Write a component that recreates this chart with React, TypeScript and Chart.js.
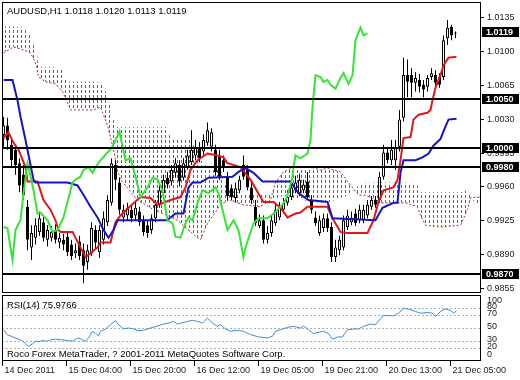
import React, { useEffect, useRef } from "react";
import { Chart, registerables } from "chart.js";

Chart.register(...registerables);

// ---------- texts ----------
const symbolTitle = "AUDUSD,H1 1.0118 1.0120 1.0113 1.0119";
const rsiTitle = "RSI(14) 75.9766";
const copyright = "Roco Forex MetaTrader, ? 2001-2011 MetaQuotes Software Corp.";

// ---------- candles (bar index 0..113) ----------
const opens = [
  1.0013, 1.0023, 1.0003, 0.9998, 0.9984, 0.9972, 0.9939, 0.9897, 0.9907, 0.9913,
  0.9923, 0.9905, 0.9907, 0.9915, 0.9902, 0.9905, 0.9908, 0.9900, 0.9891, 0.9903,
  0.9894, 0.9882, 0.9891, 0.9915, 0.9892, 0.9905, 0.9923, 0.9943, 0.9982, 0.9964,
  0.9928, 0.9930, 0.9936, 0.9930, 0.9934, 0.9925, 0.9920, 0.9915, 0.9927, 0.9941,
  0.9953, 0.9969, 0.9965, 0.9974, 0.9982, 0.9969, 0.9979, 0.9985, 0.9992, 1.0000,
  0.9996, 1.0005, 1.0001, 0.9998, 0.9992, 0.9987, 0.9969, 0.9958, 0.9948, 0.9956,
  0.9982, 0.9977, 0.9959, 0.9939, 0.9919, 0.9925, 0.9905, 0.9912, 0.9922, 0.9928,
  0.9936, 0.9943, 0.9949, 0.9956, 0.9953, 0.9956, 0.9965, 0.9946, 0.9928, 0.9912,
  0.9917, 0.9927, 0.9918, 0.9887, 0.9894, 0.9897, 0.9918, 0.9923, 0.9932, 0.9925,
  0.9925, 0.9930, 0.9939, 0.9946, 0.9946, 0.9970, 0.9995, 0.9987, 0.9987, 1.0001,
  1.0031, 1.0075, 1.0075, 1.0067, 1.0070, 1.0065, 1.0063, 1.0073, 1.0075, 1.0073,
  1.0073, 1.0113, 1.0125, 1.0118,
];
const highs = [
  1.0032, 1.0031, 1.0008, 1.0003, 0.9989, 0.9982, 0.9946, 0.9920, 0.9927, 0.9934,
  0.9930, 0.9920, 0.9919, 0.9921, 0.9912, 0.9911, 0.9913, 0.9905, 0.9901, 0.9909,
  0.9901, 0.9900, 0.9923, 0.9920, 0.9920, 0.9934, 0.9951, 0.9989, 0.9987, 0.9969,
  0.9941, 0.9943, 0.9941, 0.9944, 0.9939, 0.9930, 0.9925, 0.9931, 0.9946, 0.9961,
  0.9972, 0.9975, 0.9982, 0.9989, 0.9987, 0.9989, 0.9998, 1.0018, 1.0008, 1.0006,
  1.0014, 1.0026, 1.0020, 1.0003, 0.9998, 0.9992, 0.9975, 0.9962, 0.9964, 0.9971,
  0.9992, 0.9982, 0.9965, 0.9946, 0.9931, 0.9930, 0.9919, 0.9930, 0.9941, 0.9944,
  0.9948, 0.9956, 0.9967, 0.9971, 0.9973, 0.9967, 0.9975, 0.9951, 0.9934, 0.9930,
  0.9932, 0.9932, 0.9923, 0.9905, 0.9909, 0.9930, 0.9936, 0.9934, 0.9937, 0.9941,
  0.9941, 0.9946, 0.9950, 0.9950, 0.9975, 1.0003, 1.0000, 1.0008, 1.0008, 1.0039,
  1.0093, 1.0091, 1.0082, 1.0078, 1.0076, 1.0070, 1.0075, 1.0082, 1.0080, 1.0077,
  1.0116, 1.0132, 1.0127, 1.0120,
];
const lows = [
  1.0001, 0.9998, 0.9979, 0.9972, 0.9954, 0.9946, 0.9894, 0.9884, 0.9900, 0.9909,
  0.9903, 0.9898, 0.9903, 0.9901, 0.9896, 0.9894, 0.9888, 0.9884, 0.9886, 0.9884,
  0.9860, 0.9874, 0.9888, 0.9896, 0.9886, 0.9900, 0.9919, 0.9940, 0.9956, 0.9931,
  0.9923, 0.9925, 0.9923, 0.9925, 0.9919, 0.9909, 0.9907, 0.9911, 0.9923, 0.9938,
  0.9950, 0.9958, 0.9961, 0.9969, 0.9960, 0.9966, 0.9977, 0.9982, 0.9987, 0.9985,
  0.9992, 1.0002, 0.9996, 0.9971, 0.9967, 0.9975, 0.9946, 0.9946, 0.9944, 0.9953,
  0.9967, 0.9956, 0.9942, 0.9919, 0.9917, 0.9901, 0.9901, 0.9908, 0.9919, 0.9925,
  0.9932, 0.9940, 0.9946, 0.9953, 0.9950, 0.9953, 0.9946, 0.9932, 0.9919, 0.9909,
  0.9913, 0.9913, 0.9882, 0.9882, 0.9889, 0.9894, 0.9915, 0.9920, 0.9919, 0.9922,
  0.9922, 0.9927, 0.9936, 0.9938, 0.9943, 0.9967, 0.9984, 0.9982, 0.9977, 0.9996,
  1.0027, 1.0052, 1.0052, 1.0058, 1.0057, 1.0052, 1.0058, 1.0070, 1.0062, 1.0062,
  1.0070, 1.0106, 1.0111, 1.0113,
];
const closes = [
  1.0023, 1.0008, 0.9987, 0.9982, 0.9961, 0.9951, 0.9905, 0.9912, 0.9920, 0.9927,
  0.9907, 0.9915, 0.9913, 0.9905, 0.9907, 0.9900, 0.9892, 0.9888, 0.9894, 0.9888,
  0.9878, 0.9894, 0.9917, 0.9902, 0.9915, 0.9927, 0.9946, 0.9984, 0.9967, 0.9936,
  0.9936, 0.9938, 0.9927, 0.9938, 0.9923, 0.9913, 0.9912, 0.9927, 0.9941, 0.9956,
  0.9967, 0.9962, 0.9977, 0.9984, 0.9965, 0.9984, 0.9992, 0.9998, 1.0000, 0.9989,
  1.0008, 1.0018, 1.0016, 0.9975, 0.9970, 0.9979, 0.9950, 0.9949, 0.9958, 0.9967,
  0.9970, 0.9959, 0.9946, 0.9922, 0.9925, 0.9905, 0.9912, 0.9925, 0.9936, 0.9939,
  0.9943, 0.9949, 0.9959, 0.9964, 0.9967, 0.9962, 0.9949, 0.9936, 0.9922, 0.9925,
  0.9927, 0.9917, 0.9887, 0.9897, 0.9905, 0.9925, 0.9930, 0.9928, 0.9922, 0.9936,
  0.9936, 0.9941, 0.9946, 0.9941, 0.9970, 0.9995, 0.9987, 0.9998, 1.0000, 1.0029,
  1.0075, 1.0068, 1.0067, 1.0072, 1.0063, 1.0060, 1.0072, 1.0077, 1.0067, 1.0065,
  1.0111, 1.0124, 1.0116, 1.0119,
];

// ---------- Ichimoku lines [bar index, price] ----------
const tenkan: [number, number][] = [
  [0, 1.0010], [1.25, 1.0016], [2.5, 1.0005], [3.75, 0.9998], [5.5, 0.9980], [6, 0.9965],
  [8.5, 0.9965], [10, 0.9946], [11.75, 0.9936], [13, 0.9925], [13.75, 0.9915], [14.25, 0.9913],
  [17.25, 0.9913], [19.25, 0.9897], [20.5, 0.9887], [21.75, 0.9891], [23.5, 0.9897], [24.25, 0.9902],
  [26.75, 0.9902], [28, 0.9923], [29.25, 0.9930], [31.25, 0.9938], [34.25, 0.9949], [36.75, 0.9948],
  [38.5, 0.9941], [40, 0.9943], [41.75, 0.9946], [44.25, 0.9949], [45.5, 0.9959], [46.75, 0.9977],
  [48.5, 0.9987], [51, 0.9994], [53.5, 0.9992], [55, 0.9990], [56, 0.9984], [59.25, 0.9980],
  [61.75, 0.9967], [64.25, 0.9949], [65, 0.9944], [67.5, 0.9944], [69.25, 0.9938], [71, 0.9928],
  [73, 0.9932], [74.25, 0.9933], [76, 0.9939], [81, 0.9939], [82.25, 0.9927], [84.25, 0.9913],
  [86, 0.9912], [91, 0.9912], [92.5, 0.9925], [93.75, 0.9944], [95, 0.9956], [97.5, 0.9959],
  [98.5, 0.9967], [99.25, 0.9987], [100, 1.0010], [101.75, 1.0011], [102.5, 1.0029], [103.75, 1.0034],
  [106, 1.0036], [106.75, 1.0039], [107.25, 1.0049], [108, 1.0062], [109.25, 1.0075], [110, 1.0085],
  [111.25, 1.0093], [113.25, 1.0094],
];
const kijun: [number, number][] = [
  [0, 1.0070], [2.25, 1.0070], [3.5, 1.0049], [4.25, 1.0032], [5.5, 1.0008], [7.5, 0.9967],
  [8, 0.9964], [16, 0.9964], [18.5, 0.9961], [19.75, 0.9953], [21.75, 0.9939], [23.5, 0.9928],
  [25, 0.9915], [26.25, 0.9907], [27.5, 0.9915], [28.5, 0.9925], [41, 0.9925], [41.75, 0.9928],
  [43, 0.9932], [45, 0.9932], [46.25, 0.9959], [47.25, 0.9964], [49.25, 0.9964], [51.25, 0.9969],
  [57.25, 0.9970], [58.75, 0.9975], [60.5, 0.9979], [62.5, 0.9974], [64.75, 0.9965], [71.75, 0.9965],
  [73.75, 0.9953], [76.25, 0.9946], [81, 0.9944], [82.25, 0.9927], [93, 0.9925], [94.75, 0.9938],
  [97.5, 0.9943], [98.5, 0.9943], [99.25, 0.9974], [100, 0.9987], [103, 0.9987], [104.75, 0.9990],
  [106.25, 0.9994], [107.5, 1.0002], [109.25, 1.0009], [110.5, 1.0022], [111.25, 1.0029], [113.25, 1.0030],
];
const chikou: [number, number][] = [
  [0, 0.9918], [1, 0.9917], [1.75, 0.9897], [2.25, 0.9884], [3, 0.9915], [4.25, 0.9925],
  [5, 0.9953], [6, 0.9984], [6.25, 0.9980], [7.5, 0.9956], [8.5, 0.9932], [9.25, 0.9933],
  [11, 0.9925], [12.25, 0.9913], [13.5, 0.9915], [15, 0.9928], [17.25, 0.9964], [18, 0.9967],
  [19.25, 0.9970], [20, 0.9977], [21.25, 0.9980], [22.25, 0.9974], [23, 0.9980], [24.25, 0.9987],
  [26, 0.9995], [27.25, 1.0001], [28, 1.0008], [29, 1.0017], [29.25, 1.0011], [30.5, 0.9987],
  [31.75, 0.9989], [33, 0.9970], [34.25, 0.9949], [36, 0.9959], [37.25, 0.9969], [38.5, 0.9967],
  [39.75, 0.9956], [41, 0.9925], [42.25, 0.9922], [43, 0.9908], [44.25, 0.9907], [45.5, 0.9922],
  [46.25, 0.9928], [47.25, 0.9925], [48.5, 0.9943], [49.75, 0.9956], [51.25, 0.9953], [53, 0.9959],
  [53.75, 0.9953], [54.75, 0.9936], [56, 0.9915], [57.5, 0.9925], [58.75, 0.9915], [60, 0.9887],
  [60.5, 0.9897], [62.5, 0.9922], [63.75, 0.9927], [66, 0.9927], [67.5, 0.9932], [69.25, 0.9939],
  [70.5, 0.9946], [71.25, 0.9954], [72.25, 0.9970], [72.5, 0.9980], [73, 0.9992], [74.25, 0.9989],
  [76, 0.9994], [76.75, 1.0008], [77.25, 1.0042], [78, 1.0075], [79.25, 1.0073], [80, 1.0068],
  [81, 1.0070], [81.75, 1.0065], [83, 1.0061], [84.25, 1.0072], [85, 1.0077], [86.25, 1.0066],
  [87.25, 1.0075], [88, 1.0111], [89.25, 1.0124], [90, 1.0116], [91, 1.0118],
];

// ---------- Kumo (cloud) ----------
const cloudIdx = [
  0, 2.5, 5, 6.75, 8.25, 8.75, 10.5, 13, 14.75, 15.75,
  16.75, 22.5, 24.25, 26, 27.5, 28.5, 29.25, 33.5, 37.5, 41,
  41.75, 43.5, 46.75, 48.5, 49.25, 51, 54.25, 56.25, 60, 64.25,
  66.75, 68, 70, 72.5, 76.75, 79.25, 81, 84.25, 86.25, 88.75,
  90.5, 94.25, 100.5, 103.5, 104.25, 105.5, 109.25, 114.25, 116, 116.75,
  118, 119.5,
];
const spanA = [
  1.0125, 1.0125, 1.0124, 1.0116, 1.0101, 1.0083, 1.0083, 1.0083, 1.0080, 1.0068,
  1.0068, 1.0068, 1.0067, 1.0055, 1.0029, 1.0021, 1.0021, 1.0021, 1.0021, 1.0021,
  1.0010, 1.0010, 1.0008, 0.9998, 0.9987, 0.9982, 0.9977, 0.9956, 0.9953, 0.9953,
  0.9951, 0.9946, 0.9951, 0.9948, 0.9944, 0.9943, 0.9943, 0.9948, 0.9951, 0.9961,
  0.9964, 0.9964, 0.9964, 0.9961, 0.9954, 0.9954, 0.9954, 0.9954, 0.9956, 0.9951,
  0.9941, 0.9941,
];
const spanB = [
  1.0098, 1.0104, 1.0101, 1.0098, 1.0085, 1.0073, 1.0068, 1.0066, 1.0058, 1.0049,
  1.0039, 1.0039, 1.0042, 1.0023, 0.9998, 0.9977, 0.9967, 0.9946, 0.9936, 0.9930,
  0.9928, 0.9925, 0.9913, 0.9907, 0.9905, 0.9922, 0.9941, 0.9946, 0.9941, 0.9939,
  0.9946, 0.9964, 0.9975, 0.9980, 0.9980, 0.9977, 0.9979, 0.9975, 0.9964, 0.9951,
  0.9951, 0.9943, 0.9943, 0.9939, 0.9930, 0.9920, 0.9918, 0.9920, 0.9936, 0.9948,
  0.9949, 0.9949,
];

// ---------- RSI(14) [bar index, value] ----------
const rsi: [number, number][] = [
  [0, 47.5], [0.9, 40], [2.5, 36], [4.25, 32], [5.5, 27], [6.25, 22], [7.25, 26], [8, 30],
  [8.75, 29], [9.75, 31], [11, 30], [11.75, 32], [13, 33], [14.75, 32], [16, 31], [17.25, 30],
  [18, 33], [18.75, 35], [19.75, 32], [20.5, 30], [21.25, 35], [22.25, 45], [23, 42], [23.75, 38],
  [24.25, 45], [25.5, 48.5], [26.75, 55], [28, 61], [28.75, 55], [30, 48.5], [31.25, 50], [32.5, 48.5],
  [33.75, 46], [35, 46.5], [36.75, 50], [38.5, 53], [40, 56], [41.25, 57.5], [42.5, 60], [43.5, 56],
  [44.75, 58], [46, 60], [47.25, 61.5], [48.5, 60], [49.75, 57.5], [51, 65], [52.25, 57.5], [53.5, 52.5],
  [54.25, 55], [55.5, 48.5], [56.75, 45], [58.5, 46.5], [60, 45], [61.75, 40], [63.75, 36.5], [66, 35],
  [67.25, 37.5], [68, 45], [69.25, 47.5], [71, 51], [72.5, 52.5], [74.25, 50], [75, 53], [76.25, 47.5],
  [77.5, 41.5], [78.75, 43.5], [80, 45], [81.25, 41.5], [82.25, 33], [83.5, 36.5], [84.75, 36.5], [86, 47.5],
  [87.5, 48.5], [88.75, 48.5], [90, 52.5], [91.75, 56], [93, 55], [94.25, 64], [95, 69], [97.5, 68.5],
  [98.75, 72.5], [100, 80], [101.25, 78.5], [103, 75], [104.25, 72.5], [106, 73.5], [107.25, 72.5], [108, 67.5],
  [109.25, 75], [110.5, 79], [111.75, 76.5], [112.5, 72.5], [113.25, 76],
];

// ---------- axes / levels ----------
const priceTicks = [1.0135, 1.01, 1.0065, 1.003, 0.9995, 0.996, 0.9925, 0.989, 0.9855];
const levels = [1.005, 1.0, 0.998, 0.987];
const lastPrice = 1.0119;
const rsiLevels = [80, 70, 50, 30, 20];
const rsiTicks = [100, 80, 70, 50, 30, 20, 0];
const timeIdx = [0, 16, 32, 48, 64, 80, 96, 112];
const timeLabels = [
  "14 Dec 2011", "15 Dec 04:00", "15 Dec 20:00", "16 Dec 12:00",
  "19 Dec 05:00", "19 Dec 21:00", "20 Dec 13:00", "21 Dec 05:00",
];

const X_MIN = -0.375;
const X_MAX = 119.375;
const P_MIN = 0.98499;
const P_MAX = 1.01505;
const FONT = "'Liberation Sans', Arial, sans-serif";

function makePattern(color: string): CanvasPattern | string {
  const c = document.createElement("canvas");
  c.width = 4;
  c.height = 5;
  const g = c.getContext("2d");
  if (!g) return color;
  g.fillStyle = color;
  g.fillRect(1, 0, 1, 3);
  return g.createPattern(c, "repeat") || color;
}

const toPts = (arr: [number, number][]) => arr.map(([x, y]) => ({ x, y }));

export default function App() {
  const mainRef = useRef<HTMLCanvasElement | null>(null);
  const rsiRef = useRef<HTMLCanvasElement | null>(null);

  useEffect(() => {
    if (!mainRef.current || !rsiRef.current) return;
    const green = makePattern("#1a9a1a");
    const red = makePattern("#c83a30");

    const bodies = opens.map((o, i) => ({ x: i, y: [o, closes[i]] }));
    const wicks = opens.map((_, i) => ({ x: i, y: [lows[i], highs[i]] }));
    const bodyColors = opens.map((o, i) => (closes[i] >= o ? "#ffffff" : "#000000"));

    const mainOverlay = {
      id: "mainOverlay",
      afterDatasetsDraw(chart: any) {
        const { ctx, chartArea: a, scales } = chart;
        ctx.save();
        ctx.fillStyle = "#000";
        for (const v of levels) {
          const py = Math.round(scales.y.getPixelForValue(v));
          ctx.fillRect(a.left, py - 1, a.right - a.left, 2);
        }
        ctx.restore();
      },
      afterDraw(chart: any) {
        const { ctx, chartArea: a, scales } = chart;
        const ys = scales.y;
        ctx.save();
        ctx.strokeStyle = "#000";
        ctx.lineWidth = 1;
        ctx.strokeRect(a.left + 0.5, a.top + 0.5, a.right - a.left - 1, a.bottom - a.top - 1);
        ctx.font = `9px ${FONT}`;
        ctx.textBaseline = "middle";
        ctx.textAlign = "left";
        for (const v of priceTicks) {
          const py = Math.round(ys.getPixelForValue(v)) + 0.5;
          ctx.beginPath();
          ctx.moveTo(a.right - 1, py);
          ctx.lineTo(a.right + 3, py);
          ctx.stroke();
          ctx.fillStyle = "#222";
          ctx.fillText(v.toFixed(4), a.right + 6, py);
        }
        ctx.font = `bold 9px ${FONT}`;
        for (const v of [...levels, lastPrice]) {
          const py = Math.round(ys.getPixelForValue(v));
          ctx.fillStyle = "#000";
          ctx.fillRect(a.right + 1, py - 5, 37, 10);
          ctx.fillStyle = "#fff";
          ctx.fillText(v.toFixed(4), a.right + 5, py + 0.5);
        }
        ctx.fillStyle = "#000";
        ctx.font = `9.5px ${FONT}`;
        ctx.fillText(symbolTitle, a.left + 5, a.top + 9);
        ctx.restore();
      },
    };

    const mainChart = new Chart(mainRef.current, {
      type: "line",
      data: {
        datasets: [
          {
            type: "line",
            data: toPts(chikou),
            borderColor: "#33e633",
            borderWidth: 2,
            pointRadius: 0,
            fill: false,
            order: 0,
          },
          {
            type: "line",
            data: toPts(kijun),
            borderColor: "#1414c8",
            borderWidth: 2,
            pointRadius: 0,
            fill: false,
            order: 1,
          },
          {
            type: "line",
            data: toPts(tenkan),
            borderColor: "#e01818",
            borderWidth: 2,
            pointRadius: 0,
            fill: false,
            order: 2,
          },
          {
            type: "bar",
            data: bodies as any,
            backgroundColor: bodyColors,
            borderColor: "#000",
            borderWidth: 1,
            borderSkipped: false,
            barThickness: 3,
            grouped: false,
            minBarLength: 1,
            inflateAmount: 0,
            order: 3,
          } as any,
          {
            type: "bar",
            data: wicks as any,
            backgroundColor: "#000",
            borderWidth: 0,
            barThickness: 1,
            grouped: false,
            inflateAmount: 0,
            order: 4,
          } as any,
          {
            type: "line",
            data: cloudIdx.map((x, i) => ({ x, y: spanA[i] })),
            borderColor: "rgba(0,0,0,0)",
            borderWidth: 1,
            pointRadius: 0,
            fill: { target: "+1", above: green, below: red } as any,
            order: 6,
          },
          {
            type: "line",
            data: cloudIdx.map((x, i) => ({ x, y: spanB[i] })),
            borderColor: "#a83a2a",
            borderWidth: 1,
            borderDash: [2, 2],
            pointRadius: 0,
            fill: false,
            order: 5,
          },
        ],
      },
      options: {
        animation: false,
        responsive: false,
        devicePixelRatio: 1,
        events: [],
        layout: { padding: { left: 2, top: 2, right: 39, bottom: 87 } },
        scales: {
          x: { type: "linear", min: X_MIN, max: X_MAX, display: false, offset: false },
          y: { type: "linear", min: P_MIN, max: P_MAX, display: false },
        },
        plugins: { legend: { display: false }, tooltip: { enabled: false } },
      },
      plugins: [mainOverlay],
    });

    const rsiOverlay = {
      id: "rsiOverlay",
      beforeDatasetsDraw(chart: any) {
        const { ctx, chartArea: a, scales } = chart;
        ctx.save();
        ctx.strokeStyle = "#b0b0b0";
        ctx.lineWidth = 1;
        ctx.setLineDash([2, 2]);
        for (const v of rsiLevels) {
          const py = Math.round(scales.y.getPixelForValue(v)) + 0.5;
          ctx.beginPath();
          ctx.moveTo(a.left, py);
          ctx.lineTo(a.right, py);
          ctx.stroke();
        }
        ctx.restore();
      },
      afterDraw(chart: any) {
        const { ctx, chartArea: a, scales } = chart;
        ctx.save();
        ctx.strokeStyle = "#000";
        ctx.lineWidth = 1;
        ctx.strokeRect(a.left + 0.5, a.top + 0.5, a.right - a.left - 1, a.bottom - a.top - 1);
        ctx.font = `9px ${FONT}`;
        ctx.textBaseline = "middle";
        ctx.textAlign = "left";
        ctx.fillStyle = "#222";
        for (const v of rsiTicks) {
          let py = scales.y.getPixelForValue(v) - 1.5;
          py = Math.max(a.top + 6, Math.min(a.bottom - 6, py));
          ctx.fillText(String(v), a.right + 6, py);
        }
        ctx.fillStyle = "#000";
        ctx.font = `9.5px ${FONT}`;
        ctx.fillText(rsiTitle, a.left + 5, a.top + 10);
        ctx.fillText(copyright, a.left + 5, a.bottom - 7);
        ctx.font = `9px ${FONT}`;
        ctx.fillStyle = "#222";
        timeIdx.forEach((idx, k) => {
          const px = Math.round(scales.x.getPixelForValue(idx)) - 1.5;
          ctx.beginPath();
          ctx.moveTo(px, a.bottom);
          ctx.lineTo(px, a.bottom + 5);
          ctx.stroke();
          ctx.fillText(timeLabels[k], px + 2, a.bottom + 10);
        });
        ctx.restore();
      },
    };

    const rsiChart = new Chart(rsiRef.current, {
      type: "line",
      data: {
        datasets: [
          {
            data: toPts(rsi),
            borderColor: "#3d8ad6",
            borderWidth: 1,
            pointRadius: 0,
            fill: false,
          },
        ],
      },
      options: {
        animation: false,
        responsive: false,
        devicePixelRatio: 1,
        events: [],
        layout: { padding: { left: 2, top: 295, right: 39, bottom: 19 } },
        scales: {
          x: { type: "linear", min: X_MIN, max: X_MAX, display: false, offset: false },
          y: { type: "linear", min: 0, max: 100, display: false },
        },
        plugins: { legend: { display: false }, tooltip: { enabled: false } },
      },
      plugins: [rsiOverlay],
    });

    return () => {
      mainChart.destroy();
      rsiChart.destroy();
    };
  }, []);

  return (
    <div
      style={{
        position: "fixed",
        left: 0,
        top: 0,
        width: 520,
        height: 380,
        background: "#ffffff",
        overflow: "hidden",
      }}
    >
      <canvas
        ref={mainRef}
        width={520}
        height={380}
        style={{ position: "absolute", left: 0, top: 0, width: 520, height: 380 }}
      />
      <canvas
        ref={rsiRef}
        width={520}
        height={380}
        style={{ position: "absolute", left: 0, top: 0, width: 520, height: 380 }}
      />
    </div>
  );
}
